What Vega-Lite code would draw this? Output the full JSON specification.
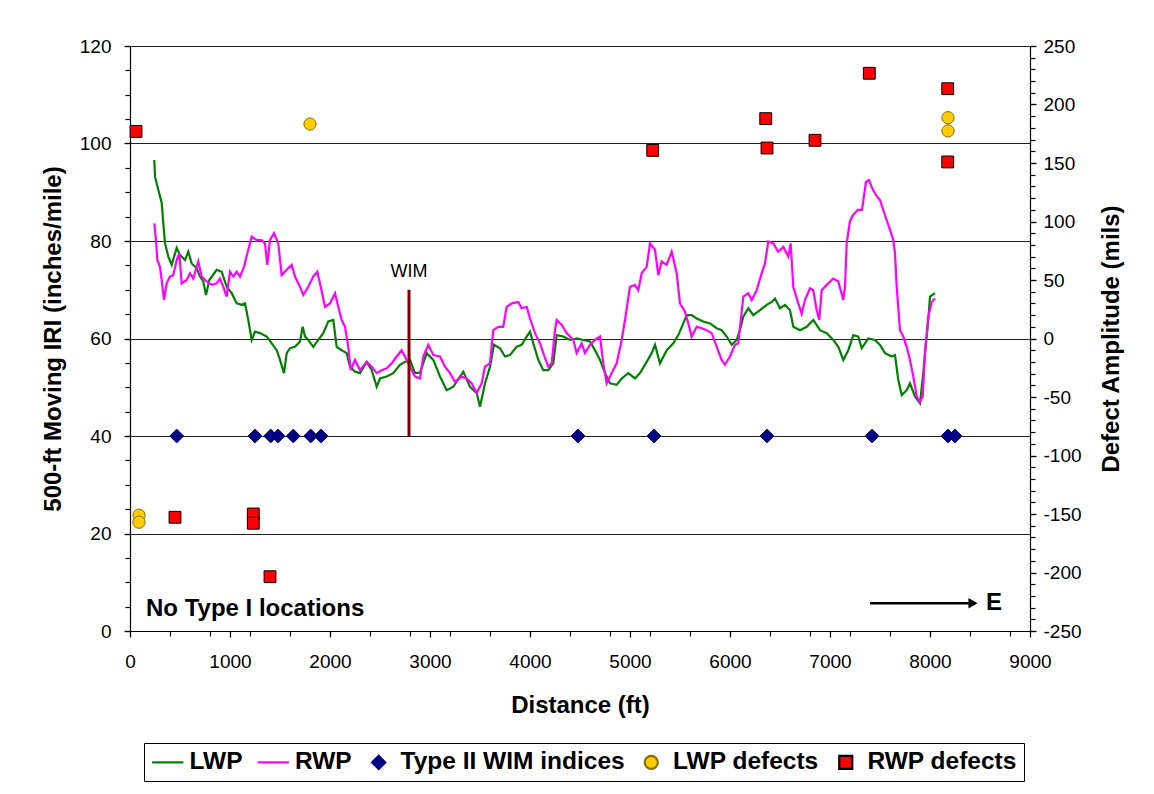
{
  "$schema": "https://vega.github.io/schema/vega-lite/v6.json",
  "width": 900,
  "height": 585,
  "autosize": {"type": "none"},
  "padding": {"left": 130, "top": 46, "right": 124, "bottom": 163},
  "background": "white",
  "config": {
    "font": "Liberation Sans",
    "view": {"stroke": null},
    "axis": {
      "labelFont": "Liberation Sans", "labelFontSize": 19, "labelColor": "black",
      "titleFont": "Liberation Sans", "titleFontSize": 24, "titleFontWeight": "bold", "titleColor": "black",
      "domainColor": "black", "domainWidth": 1.2, "tickColor": "black", "tickWidth": 1.2,
      "labelOverlap": false, "labelFlush": false
    },
    "legend": {
      "orient": "none", "legendX": 14, "legendY": 697, "direction": "horizontal",
      "labelFont": "Liberation Sans", "labelFontSize": 24.5, "labelFontWeight": "bold", "labelColor": "black",
      "labelLimit": 400, "labelOffset": 9.5, "columnPadding": 9.5, "padding": 7,
      "symbolSize": 170, "symbolOffset": 4.5, "symbolStrokeWidth": 2.2, "symbolOpacity": 1,
      "strokeColor": "black", "fillColor": "white"
    }
  },
  "datasets": {
    "iri": [
      {"series":"LWP","d":243,"v":96.6},{"series":"LWP","d":250,"v":93.2},{"series":"LWP","d":283,"v":90.5},{"series":"LWP","d":317,"v":87.8},{"series":"LWP","d":333,"v":83.7},{"series":"LWP","d":350,"v":79.6},{"series":"LWP","d":383,"v":76.8},{"series":"LWP","d":417,"v":75.1},{"series":"LWP","d":467,"v":78.6},{"series":"LWP","d":500,"v":77.1},{"series":"LWP","d":550,"v":76.1},{"series":"LWP","d":583,"v":77.8},{"series":"LWP","d":617,"v":75.4},{"series":"LWP","d":667,"v":74.4},{"series":"LWP","d":700,"v":72.7},{"series":"LWP","d":733,"v":71.7},{"series":"LWP","d":760,"v":68.9},{"series":"LWP","d":793,"v":72.0},{"series":"LWP","d":867,"v":74.1},{"series":"LWP","d":917,"v":73.7},{"series":"LWP","d":967,"v":70.6},{"series":"LWP","d":1017,"v":69.3},{"series":"LWP","d":1067,"v":67.2},{"series":"LWP","d":1117,"v":66.9},{"series":"LWP","d":1150,"v":67.2},{"series":"LWP","d":1183,"v":63.8},{"series":"LWP","d":1217,"v":59.7},{"series":"LWP","d":1250,"v":61.4},{"series":"LWP","d":1300,"v":61.1},{"series":"LWP","d":1367,"v":60.4},{"series":"LWP","d":1417,"v":59.0},{"series":"LWP","d":1467,"v":57.6},{"series":"LWP","d":1500,"v":55.6},{"series":"LWP","d":1540,"v":52.9},{"series":"LWP","d":1567,"v":57.0},{"series":"LWP","d":1600,"v":58.0},{"series":"LWP","d":1650,"v":58.3},{"series":"LWP","d":1700,"v":59.4},{"series":"LWP","d":1727,"v":62.4},{"series":"LWP","d":1750,"v":60.4},{"series":"LWP","d":1783,"v":59.7},{"series":"LWP","d":1833,"v":58.3},{"series":"LWP","d":1883,"v":59.7},{"series":"LWP","d":1933,"v":61.1},{"series":"LWP","d":1983,"v":63.5},{"series":"LWP","d":2033,"v":63.8},{"series":"LWP","d":2067,"v":58.3},{"series":"LWP","d":2117,"v":57.6},{"series":"LWP","d":2167,"v":57.0},{"series":"LWP","d":2200,"v":54.2},{"series":"LWP","d":2250,"v":53.2},{"series":"LWP","d":2300,"v":52.9},{"series":"LWP","d":2367,"v":55.2},{"series":"LWP","d":2417,"v":53.5},{"series":"LWP","d":2467,"v":50.1},{"series":"LWP","d":2500,"v":51.8},{"series":"LWP","d":2567,"v":52.2},{"series":"LWP","d":2633,"v":52.9},{"series":"LWP","d":2700,"v":54.6},{"series":"LWP","d":2750,"v":55.2},{"series":"LWP","d":2800,"v":55.6},{"series":"LWP","d":2850,"v":52.9},{"series":"LWP","d":2900,"v":53.0},{"series":"LWP","d":2967,"v":57.0},{"series":"LWP","d":3033,"v":55.6},{"series":"LWP","d":3100,"v":52.2},{"series":"LWP","d":3167,"v":49.4},{"series":"LWP","d":3233,"v":50.1},{"series":"LWP","d":3300,"v":52.2},{"series":"LWP","d":3333,"v":53.2},{"series":"LWP","d":3400,"v":50.1},{"series":"LWP","d":3467,"v":48.8},{"series":"LWP","d":3500,"v":46.0},{"series":"LWP","d":3550,"v":50.8},{"series":"LWP","d":3600,"v":54.2},{"series":"LWP","d":3640,"v":58.7},{"series":"LWP","d":3700,"v":58.0},{"series":"LWP","d":3750,"v":56.3},{"series":"LWP","d":3800,"v":56.6},{"series":"LWP","d":3867,"v":58.3},{"series":"LWP","d":3917,"v":58.7},{"series":"LWP","d":3967,"v":60.4},{"series":"LWP","d":4000,"v":61.4},{"series":"LWP","d":4033,"v":59.0},{"series":"LWP","d":4083,"v":55.6},{"series":"LWP","d":4133,"v":53.5},{"series":"LWP","d":4183,"v":53.5},{"series":"LWP","d":4233,"v":54.9},{"series":"LWP","d":4267,"v":60.7},{"series":"LWP","d":4333,"v":60.4},{"series":"LWP","d":4400,"v":59.7},{"series":"LWP","d":4467,"v":60.0},{"series":"LWP","d":4533,"v":59.7},{"series":"LWP","d":4600,"v":59.4},{"series":"LWP","d":4650,"v":57.6},{"series":"LWP","d":4700,"v":55.6},{"series":"LWP","d":4750,"v":52.9},{"series":"LWP","d":4800,"v":50.8},{"series":"LWP","d":4867,"v":50.5},{"series":"LWP","d":4917,"v":51.8},{"series":"LWP","d":4983,"v":52.9},{"series":"LWP","d":5050,"v":51.8},{"series":"LWP","d":5100,"v":52.9},{"series":"LWP","d":5167,"v":55.2},{"series":"LWP","d":5217,"v":57.0},{"series":"LWP","d":5250,"v":58.7},{"series":"LWP","d":5300,"v":54.9},{"series":"LWP","d":5367,"v":57.6},{"series":"LWP","d":5433,"v":59.0},{"series":"LWP","d":5483,"v":60.7},{"series":"LWP","d":5533,"v":63.1},{"series":"LWP","d":5567,"v":64.8},{"series":"LWP","d":5617,"v":64.8},{"series":"LWP","d":5667,"v":64.1},{"series":"LWP","d":5733,"v":63.5},{"series":"LWP","d":5800,"v":63.1},{"series":"LWP","d":5867,"v":62.1},{"series":"LWP","d":5917,"v":61.7},{"series":"LWP","d":5967,"v":60.4},{"series":"LWP","d":6017,"v":58.7},{"series":"LWP","d":6067,"v":59.7},{"series":"LWP","d":6100,"v":61.7},{"series":"LWP","d":6133,"v":64.5},{"series":"LWP","d":6183,"v":66.2},{"series":"LWP","d":6233,"v":64.8},{"series":"LWP","d":6300,"v":65.8},{"series":"LWP","d":6367,"v":66.9},{"series":"LWP","d":6417,"v":67.5},{"series":"LWP","d":6450,"v":68.2},{"series":"LWP","d":6500,"v":66.2},{"series":"LWP","d":6550,"v":66.9},{"series":"LWP","d":6600,"v":65.8},{"series":"LWP","d":6633,"v":62.4},{"series":"LWP","d":6700,"v":61.7},{"series":"LWP","d":6767,"v":62.4},{"series":"LWP","d":6833,"v":63.8},{"series":"LWP","d":6900,"v":61.7},{"series":"LWP","d":6967,"v":61.1},{"series":"LWP","d":7033,"v":59.7},{"series":"LWP","d":7083,"v":58.3},{"series":"LWP","d":7133,"v":55.6},{"series":"LWP","d":7183,"v":57.6},{"series":"LWP","d":7233,"v":60.7},{"series":"LWP","d":7283,"v":60.4},{"series":"LWP","d":7317,"v":58.0},{"series":"LWP","d":7383,"v":60.0},{"series":"LWP","d":7450,"v":59.7},{"series":"LWP","d":7500,"v":58.7},{"series":"LWP","d":7550,"v":57.0},{"series":"LWP","d":7617,"v":56.3},{"series":"LWP","d":7650,"v":56.6},{"series":"LWP","d":7683,"v":51.5},{"series":"LWP","d":7717,"v":48.4},{"series":"LWP","d":7767,"v":49.4},{"series":"LWP","d":7800,"v":50.8},{"series":"LWP","d":7850,"v":48.1},{"series":"LWP","d":7900,"v":46.7},{"series":"LWP","d":7933,"v":52.9},{"series":"LWP","d":7950,"v":57.0},{"series":"LWP","d":7983,"v":63.8},{"series":"LWP","d":8000,"v":68.6},{"series":"LWP","d":8050,"v":69.3},
      {"series":"RWP","d":243,"v":83.6},{"series":"RWP","d":260,"v":80.2},{"series":"RWP","d":273,"v":76.1},{"series":"RWP","d":300,"v":74.7},{"series":"RWP","d":317,"v":72.0},{"series":"RWP","d":340,"v":67.9},{"series":"RWP","d":367,"v":71.3},{"series":"RWP","d":400,"v":72.7},{"series":"RWP","d":433,"v":73.0},{"series":"RWP","d":467,"v":76.1},{"series":"RWP","d":493,"v":77.5},{"series":"RWP","d":517,"v":71.3},{"series":"RWP","d":567,"v":72.0},{"series":"RWP","d":600,"v":73.4},{"series":"RWP","d":633,"v":72.3},{"series":"RWP","d":683,"v":75.8},{"series":"RWP","d":717,"v":72.7},{"series":"RWP","d":767,"v":71.7},{"series":"RWP","d":817,"v":71.0},{"series":"RWP","d":867,"v":71.3},{"series":"RWP","d":900,"v":72.3},{"series":"RWP","d":933,"v":70.6},{"series":"RWP","d":967,"v":68.6},{"series":"RWP","d":1000,"v":73.7},{"series":"RWP","d":1033,"v":72.7},{"series":"RWP","d":1067,"v":73.7},{"series":"RWP","d":1100,"v":72.7},{"series":"RWP","d":1140,"v":74.7},{"series":"RWP","d":1183,"v":78.2},{"series":"RWP","d":1217,"v":80.9},{"series":"RWP","d":1267,"v":80.2},{"series":"RWP","d":1317,"v":80.2},{"series":"RWP","d":1350,"v":79.5},{"series":"RWP","d":1373,"v":75.1},{"series":"RWP","d":1400,"v":80.2},{"series":"RWP","d":1440,"v":81.6},{"series":"RWP","d":1483,"v":79.5},{"series":"RWP","d":1517,"v":73.0},{"series":"RWP","d":1567,"v":74.1},{"series":"RWP","d":1617,"v":75.1},{"series":"RWP","d":1650,"v":72.7},{"series":"RWP","d":1700,"v":70.6},{"series":"RWP","d":1733,"v":68.9},{"series":"RWP","d":1783,"v":70.6},{"series":"RWP","d":1833,"v":72.7},{"series":"RWP","d":1873,"v":73.7},{"series":"RWP","d":1900,"v":71.3},{"series":"RWP","d":1950,"v":66.5},{"series":"RWP","d":2000,"v":67.2},{"series":"RWP","d":2050,"v":69.3},{"series":"RWP","d":2083,"v":66.5},{"series":"RWP","d":2117,"v":63.8},{"series":"RWP","d":2150,"v":62.4},{"series":"RWP","d":2183,"v":58.3},{"series":"RWP","d":2207,"v":53.5},{"series":"RWP","d":2250,"v":55.6},{"series":"RWP","d":2300,"v":53.5},{"series":"RWP","d":2367,"v":55.2},{"series":"RWP","d":2417,"v":54.2},{"series":"RWP","d":2467,"v":52.9},{"series":"RWP","d":2517,"v":53.5},{"series":"RWP","d":2567,"v":53.9},{"series":"RWP","d":2617,"v":54.9},{"series":"RWP","d":2667,"v":56.3},{"series":"RWP","d":2717,"v":57.6},{"series":"RWP","d":2750,"v":56.3},{"series":"RWP","d":2800,"v":54.2},{"series":"RWP","d":2850,"v":52.2},{"series":"RWP","d":2900,"v":51.8},{"series":"RWP","d":2933,"v":56.3},{"series":"RWP","d":2983,"v":58.7},{"series":"RWP","d":3033,"v":56.6},{"series":"RWP","d":3100,"v":56.3},{"series":"RWP","d":3150,"v":54.2},{"series":"RWP","d":3200,"v":52.9},{"series":"RWP","d":3250,"v":51.1},{"series":"RWP","d":3317,"v":52.2},{"series":"RWP","d":3367,"v":51.8},{"series":"RWP","d":3417,"v":50.8},{"series":"RWP","d":3467,"v":48.8},{"series":"RWP","d":3517,"v":50.8},{"series":"RWP","d":3550,"v":54.2},{"series":"RWP","d":3600,"v":54.9},{"series":"RWP","d":3633,"v":61.7},{"series":"RWP","d":3683,"v":62.4},{"series":"RWP","d":3733,"v":62.4},{"series":"RWP","d":3767,"v":66.5},{"series":"RWP","d":3817,"v":67.2},{"series":"RWP","d":3883,"v":67.5},{"series":"RWP","d":3917,"v":66.2},{"series":"RWP","d":3967,"v":66.5},{"series":"RWP","d":4000,"v":64.1},{"series":"RWP","d":4050,"v":61.1},{"series":"RWP","d":4100,"v":59.0},{"series":"RWP","d":4150,"v":56.0},{"series":"RWP","d":4183,"v":54.2},{"series":"RWP","d":4217,"v":54.9},{"series":"RWP","d":4250,"v":61.7},{"series":"RWP","d":4267,"v":63.8},{"series":"RWP","d":4317,"v":62.8},{"series":"RWP","d":4367,"v":61.1},{"series":"RWP","d":4433,"v":59.7},{"series":"RWP","d":4467,"v":57.0},{"series":"RWP","d":4517,"v":59.0},{"series":"RWP","d":4550,"v":57.0},{"series":"RWP","d":4600,"v":58.7},{"series":"RWP","d":4650,"v":59.7},{"series":"RWP","d":4700,"v":60.4},{"series":"RWP","d":4733,"v":54.9},{"series":"RWP","d":4767,"v":50.8},{"series":"RWP","d":4817,"v":52.9},{"series":"RWP","d":4867,"v":54.9},{"series":"RWP","d":4917,"v":59.7},{"series":"RWP","d":4950,"v":63.8},{"series":"RWP","d":5000,"v":70.6},{"series":"RWP","d":5050,"v":71.0},{"series":"RWP","d":5083,"v":69.9},{"series":"RWP","d":5117,"v":73.4},{"series":"RWP","d":5167,"v":74.7},{"series":"RWP","d":5200,"v":79.5},{"series":"RWP","d":5250,"v":78.2},{"series":"RWP","d":5283,"v":73.0},{"series":"RWP","d":5317,"v":75.8},{"series":"RWP","d":5367,"v":75.1},{"series":"RWP","d":5417,"v":77.8},{"series":"RWP","d":5467,"v":73.4},{"series":"RWP","d":5500,"v":67.2},{"series":"RWP","d":5550,"v":65.5},{"series":"RWP","d":5583,"v":63.1},{"series":"RWP","d":5617,"v":60.4},{"series":"RWP","d":5667,"v":62.4},{"series":"RWP","d":5717,"v":62.1},{"series":"RWP","d":5767,"v":61.7},{"series":"RWP","d":5817,"v":61.1},{"series":"RWP","d":5867,"v":58.3},{"series":"RWP","d":5917,"v":55.6},{"series":"RWP","d":5950,"v":54.6},{"series":"RWP","d":6000,"v":56.3},{"series":"RWP","d":6050,"v":58.7},{"series":"RWP","d":6083,"v":59.0},{"series":"RWP","d":6133,"v":68.6},{"series":"RWP","d":6183,"v":69.3},{"series":"RWP","d":6217,"v":67.9},{"series":"RWP","d":6267,"v":69.9},{"series":"RWP","d":6317,"v":73.4},{"series":"RWP","d":6350,"v":75.4},{"series":"RWP","d":6383,"v":79.9},{"series":"RWP","d":6433,"v":79.5},{"series":"RWP","d":6483,"v":77.8},{"series":"RWP","d":6533,"v":78.8},{"series":"RWP","d":6583,"v":76.8},{"series":"RWP","d":6607,"v":79.5},{"series":"RWP","d":6633,"v":70.6},{"series":"RWP","d":6683,"v":67.2},{"series":"RWP","d":6717,"v":65.1},{"series":"RWP","d":6750,"v":67.9},{"series":"RWP","d":6800,"v":70.3},{"series":"RWP","d":6833,"v":69.9},{"series":"RWP","d":6867,"v":65.8},{"series":"RWP","d":6893,"v":63.8},{"series":"RWP","d":6917,"v":69.9},{"series":"RWP","d":6967,"v":71.0},{"series":"RWP","d":7033,"v":72.3},{"series":"RWP","d":7083,"v":71.7},{"series":"RWP","d":7133,"v":67.9},{"series":"RWP","d":7150,"v":70.6},{"series":"RWP","d":7167,"v":79.5},{"series":"RWP","d":7200,"v":84.1},{"series":"RWP","d":7230,"v":85.3},{"series":"RWP","d":7280,"v":86.4},{"series":"RWP","d":7320,"v":86.4},{"series":"RWP","d":7360,"v":92.1},{"series":"RWP","d":7390,"v":92.5},{"series":"RWP","d":7420,"v":90.9},{"series":"RWP","d":7460,"v":89.4},{"series":"RWP","d":7500,"v":88.4},{"series":"RWP","d":7540,"v":85.9},{"series":"RWP","d":7600,"v":82.3},{"series":"RWP","d":7633,"v":80.2},{"series":"RWP","d":7650,"v":77.5},{"series":"RWP","d":7667,"v":70.6},{"series":"RWP","d":7700,"v":61.7},{"series":"RWP","d":7733,"v":60.4},{"series":"RWP","d":7767,"v":58.3},{"series":"RWP","d":7800,"v":55.6},{"series":"RWP","d":7833,"v":52.2},{"series":"RWP","d":7867,"v":48.1},{"series":"RWP","d":7900,"v":47.0},{"series":"RWP","d":7927,"v":48.1},{"series":"RWP","d":7950,"v":57.0},{"series":"RWP","d":7983,"v":64.5},{"series":"RWP","d":8017,"v":67.5},{"series":"RWP","d":8050,"v":68.2}
    ],
    "wim": [
      {"series":"Type II WIM indices","d":467,"v":40},{"series":"Type II WIM indices","d":1250,"v":40},{"series":"Type II WIM indices","d":1407,"v":40},{"series":"Type II WIM indices","d":1480,"v":40},{"series":"Type II WIM indices","d":1633,"v":40},{"series":"Type II WIM indices","d":1807,"v":40},{"series":"Type II WIM indices","d":1910,"v":40},{"series":"Type II WIM indices","d":4480,"v":40},{"series":"Type II WIM indices","d":5240,"v":40},{"series":"Type II WIM indices","d":6370,"v":40},{"series":"Type II WIM indices","d":7420,"v":40},{"series":"Type II WIM indices","d":8180,"v":40},{"series":"Type II WIM indices","d":8250,"v":40}
    ],
    "defects": [
      {"series":"LWP defects","d":90,"amp":-151},{"series":"LWP defects","d":90,"amp":-157},{"series":"LWP defects","d":1800,"amp":183.3},{"series":"LWP defects","d":8180,"amp":188.7},{"series":"LWP defects","d":8180,"amp":177.4},
      {"series":"RWP defects","d":60,"amp":177},{"series":"RWP defects","d":450,"amp":-152.8},{"series":"RWP defects","d":1233,"amp":-150},{"series":"RWP defects","d":1233,"amp":-157.9},{"series":"RWP defects","d":1400,"amp":-203.6},{"series":"RWP defects","d":5227,"amp":160.8},{"series":"RWP defects","d":6357,"amp":187.9},{"series":"RWP defects","d":6370,"amp":162.8},{"series":"RWP defects","d":6850,"amp":169.4},{"series":"RWP defects","d":7393,"amp":226.7},{"series":"RWP defects","d":8177,"amp":213.5},{"series":"RWP defects","d":8177,"amp":150.9}
    ]
  },
  "layer": [
    {
      "layer": [
        {
          "data": {"name": "iri"},
          "mark": {"type": "line", "strokeWidth": 2.2},
          "encoding": {
            "x": {
              "field": "d", "type": "quantitative",
              "scale": {"domain": [0, 9000], "nice": false, "zero": false},
              "axis": {
                "orient": "bottom",
                "values": [0,1000,2000,3000,4000,5000,6000,7000,8000,9000],
                "labelExpr": "'' + datum.value",
                "labelOverlap": false, "labelFlush": false,
                "grid": false, "tickSize": 6, "labelPadding": 15,
                "title": "Distance (ft)", "titleX": 450, "titleY": 74, "titleAlign": "center", "titleBaseline": "middle"
              }
            },
            "y": {
              "field": "v", "type": "quantitative",
              "scale": {"domain": [0, 120], "nice": false, "zero": false},
              "axis": {
                "orient": "left",
                "values": [0,20,40,60,80,100,120],
                "labelExpr": "'' + datum.value",
                "labelOverlap": false, "labelFlush": false,
                "grid": true, "gridColor": "#222222", "gridWidth": 1.2,
                "tickSize": 6, "labelPadding": 13,
                "title": "500-ft Moving IRI (inches/mile)", "titleX": -77, "titleY": 292.5, "titleAngle": -90, "titleAlign": "center", "titleBaseline": "middle"
              }
            },
            "stroke": {
              "field": "series", "type": "nominal",
              "scale": {
                "domain": ["LWP", "RWP", "Type II WIM indices", "LWP defects", "RWP defects"],
                "range": ["#008000", "#FF00FF", "#000080", "#8A6D00", "#000000"]
              },
              "legend": {"title": null, "orient": "none", "legendX": 14, "legendY": 697, "direction": "horizontal"}
            }
          }
        },
        {
          "data": {"values": [{"d": 2790, "v": 40, "v2": 70}]},
          "mark": {"type": "rule", "color": "#800000", "strokeWidth": 3},
          "encoding": {
            "x": {"field": "d", "type": "quantitative"},
            "y": {
              "field": "v", "type": "quantitative",
              "axis": {
                "orient": "left",
                "values": [0,5,10,15,20,25,30,35,40,45,50,55,60,65,70,75,80,85,90,95,100,105,110,115,120],
                "labels": false, "grid": false, "domain": false, "title": null, "tickSize": 5
              }
            },
            "y2": {"field": "v2"}
          }
        },
        {
          "data": {"name": "wim"},
          "mark": {"type": "point", "opacity": 1, "size": 190, "strokeWidth": 1},
          "encoding": {
            "x": {"field": "d", "type": "quantitative"},
            "y": {"field": "v", "type": "quantitative", "axis": null},
            "fill": {
              "field": "series", "type": "nominal",
              "scale": {
                "domain": ["LWP", "RWP", "Type II WIM indices", "LWP defects", "RWP defects"],
                "range": ["transparent", "transparent", "#000080", "#FFCC00", "#FF0000"]
              },
              "legend": {"title": null}
            },
            "stroke": {"field": "series", "type": "nominal", "legend": {"title": null}},
            "shape": {
              "field": "series", "type": "nominal",
              "scale": {
                "domain": ["LWP", "RWP", "Type II WIM indices", "LWP defects", "RWP defects"],
                "range": ["M-2.4,0L2.4,0", "M-2.4,0L2.4,0", "diamond", "circle", "square"]
              },
              "legend": {"title": null}
            }
          }
        },
        {
          "data": {"values": [{"note": "WIM", "d": 2790, "v": 73.6}]},
          "mark": {"type": "text", "font": "Liberation Sans", "fontSize": 18, "align": "center", "baseline": "middle", "color": "black"},
          "encoding": {
            "x": {"field": "d", "type": "quantitative"},
            "y": {"field": "v", "type": "quantitative", "axis": null},
            "text": {"field": "note"}
          }
        },
        {
          "data": {"values": [{"note": "No Type I locations", "d": 160, "v": 4.6}, {"note": "E", "d": 8560, "v": 5.7}]},
          "mark": {"type": "text", "font": "Liberation Sans", "fontSize": 24, "fontWeight": "bold", "align": "left", "baseline": "middle", "color": "black"},
          "encoding": {
            "x": {"field": "d", "type": "quantitative"},
            "y": {"field": "v", "type": "quantitative", "axis": null},
            "text": {"field": "note"}
          }
        },
        {
          "data": {"values": [{"d": 7400, "d2": 8420, "v": 5.7}]},
          "mark": {"type": "rule", "color": "black", "strokeWidth": 2.5},
          "encoding": {
            "x": {"field": "d", "type": "quantitative"},
            "x2": {"field": "d2"},
            "y": {"field": "v", "type": "quantitative", "axis": null}
          }
        },
        {
          "data": {"values": [{"d": 8430, "v": 5.7}]},
          "mark": {"type": "point", "shape": "triangle-right", "filled": true, "color": "black", "size": 110, "opacity": 1},
          "encoding": {
            "x": {"field": "d", "type": "quantitative"},
            "y": {"field": "v", "type": "quantitative", "axis": null}
          }
        }
      ],
      "resolve": {"axis": {"y": "independent"}}
    },
    {
      "layer": [
        {
          "data": {"name": "defects"},
          "transform": [{"filter": "datum.series === 'LWP defects'"}],
          "mark": {"type": "point", "opacity": 1, "size": 150, "strokeWidth": 1},
          "encoding": {
            "x": {"field": "d", "type": "quantitative"},
            "y": {
              "field": "amp", "type": "quantitative",
              "scale": {"domain": [-250, 250], "nice": false, "zero": false},
              "axis": {
                "orient": "right",
                "values": [-250,-200,-150,-100,-50,0,50,100,150,200,250],
                "labelExpr": "'' + datum.value",
                "labelOverlap": false, "labelFlush": false,
                "grid": false, "tickSize": 6, "labelPadding": 7,
                "title": "Defect Amplitude (mils)", "titleX": 81, "titleY": 292.5, "titleAngle": -90, "titleAlign": "center", "titleBaseline": "middle"
              }
            },
            "fill": {"field": "series", "type": "nominal", "legend": {"title": null}},
            "stroke": {"field": "series", "type": "nominal", "legend": {"title": null}},
            "shape": {"field": "series", "type": "nominal", "legend": {"title": null}}
          }
        },
        {
          "data": {"name": "defects"},
          "transform": [{"filter": "datum.series === 'RWP defects'"}],
          "mark": {"type": "point", "opacity": 1, "size": 140, "strokeWidth": 1},
          "encoding": {
            "x": {
              "field": "d", "type": "quantitative",
              "axis": {
                "orient": "bottom",
                "values": [0,200,400,600,800,1000,1200,1400,1600,1800,2000,2200,2400,2600,2800,3000,3200,3400,3600,3800,4000,4200,4400,4600,4800,5000,5200,5400,5600,5800,6000,6200,6400,6600,6800,7000,7200,7400,7600,7800,8000,8200,8400,8600,8800,9000],
                "labels": false, "grid": false, "domain": false, "title": null, "tickSize": 5
              }
            },
            "y": {
              "field": "amp", "type": "quantitative",
              "axis": {
                "orient": "right",
                "values": [-250,-240,-230,-220,-210,-200,-190,-180,-170,-160,-150,-140,-130,-120,-110,-100,-90,-80,-70,-60,-50,-40,-30,-20,-10,0,10,20,30,40,50,60,70,80,90,100,110,120,130,140,150,160,170,180,190,200,210,220,230,240,250],
                "labels": false, "grid": false, "domain": false, "title": null, "tickSize": 5
              }
            },
            "fill": {"field": "series", "type": "nominal", "legend": {"title": null}},
            "stroke": {"field": "series", "type": "nominal", "legend": {"title": null}},
            "shape": {"field": "series", "type": "nominal", "legend": {"title": null}}
          }
        }
      ],
      "resolve": {"axis": {"y": "independent"}}
    }
  ],
  "resolve": {"scale": {"y": "independent"}, "axis": {"x": "independent"}}
}
